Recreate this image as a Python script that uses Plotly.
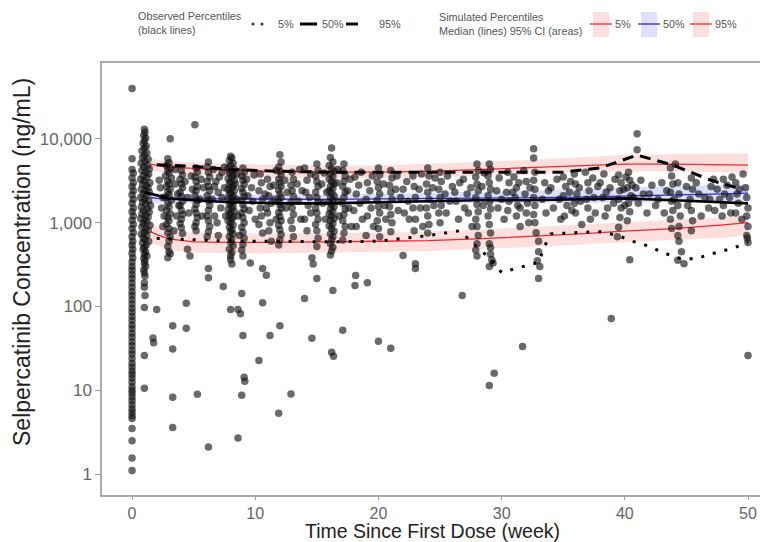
import plotly.graph_objects as go

# ---------------- data ----------------
# simulated percentiles (weeks) with 95% CI bands
sim_week = [1.5, 2, 3, 5, 8, 12, 16, 20, 24, 28, 32, 36, 40, 44, 48, 50]
sim_p5 = [780, 720, 640, 590, 580, 580, 590, 600, 610, 640, 680, 730, 790, 850, 940, 1000]
sim_p5_lo = [560, 540, 470, 440, 430, 430, 440, 450, 460, 480, 510, 540, 580, 620, 660, 700]
sim_p5_hi = [980, 900, 800, 760, 740, 740, 750, 760, 780, 820, 870, 940, 1010, 1080, 1150, 1200]
sim_p50 = [2000, 1950, 1930, 1920, 1910, 1900, 1900, 1920, 1930, 1950, 1980, 2020, 2070, 2120, 2200, 2250]
sim_p50_lo = [1700, 1700, 1710, 1710, 1710, 1700, 1700, 1700, 1700, 1700, 1700, 1700, 1720, 1750, 1800, 1800]
sim_p50_hi = [2350, 2250, 2200, 2180, 2150, 2150, 2150, 2200, 2250, 2300, 2400, 2500, 2600, 2750, 2850, 2900]
sim_p95 = [5000, 4800, 4600, 4400, 4200, 4100, 4000, 4000, 4100, 4300, 4500, 4750, 5000, 5000, 4950, 4850]
sim_p95_lo = [4200, 4000, 3900, 3700, 3500, 3400, 3400, 3400, 3500, 3600, 3800, 4000, 4100, 4100, 4000, 3900]
sim_p95_hi = [6000, 5600, 5400, 5200, 5000, 4900, 4800, 4800, 5000, 5300, 5600, 6000, 6400, 6600, 6700, 6700]

# observed percentiles
obs_p50_week = [1, 2, 3, 5, 8, 12, 16, 20, 24, 28, 32, 36, 40, 44, 48, 50]
obs_p50 = [2300, 2100, 1950, 1850, 1750, 1700, 1700, 1750, 1800, 1850, 1850, 1900, 1950, 1850, 1750, 1700]
obs_p95_week = [2, 5, 8, 12, 16, 20, 24, 28, 32, 35, 38, 41, 44, 47, 49.5]
obs_p95 = [4900, 4700, 4300, 4100, 4000, 4000, 4000, 3950, 4000, 4000, 4500, 6400, 4800, 3200, 2500]
obs_p5_week = [2, 5, 8, 12, 16, 20, 24, 26.6, 27.7, 29, 30, 31, 32, 33, 33.5, 34, 36, 38, 39.5,
               40.4, 41.4, 42.3, 43.3, 44.2, 45, 45.8, 46.8, 47.7, 48.7, 50]
obs_p5 = [650, 620, 600, 600, 590, 600, 700, 800, 560, 380, 254, 280, 306, 335, 530, 735, 760, 780, 700,
          610, 560, 490, 430, 380, 370, 370, 415, 450, 490, 580]

# observed concentrations (week, ng/mL), grouped by visit
visit_w0 = [(0, 40000), (0, 5800), (0, 4300), (0.1, 3900), (0, 3400), (0.1, 3000), (0, 2700), (0.1, 2400),
            (0, 2150), (0.1, 1900), (0, 1700), (0.1, 1500), (0, 1350), (0.1, 1200), (0, 1070), (0.1, 950),
            (0, 850), (0.1, 760), (0, 680), (0.05, 600), (0, 540), (0.05, 480), (0, 430), (0.05, 380),
            (0, 340), (0, 300), (0, 270), (0, 240), (0, 215), (0, 190), (0, 170), (0, 150), (0, 135),
            (0, 120), (0, 107), (0, 95), (0, 85), (0, 76), (0, 68), (0, 60), (0, 54), (0, 48), (0, 43),
            (0, 38), (0, 34), (0, 30), (0, 27), (0, 24), (0, 21), (0, 19), (0, 17), (0, 15.5), (0, 14),
            (0, 12.5), (0, 11), (0, 10), (0, 9.2), (0, 8.3), (0, 7.5), (0, 6.7), (0, 6), (0, 5.5), (0, 5),
            (0, 4.6), (0, 3.5), (0, 2.5), (0, 1.55), (0, 1.1)]
visit_w1 = [(1.0, 13000), (1.05, 12000), (0.95, 11000), (1.1, 10200), (1.0, 9500), (0.9, 8800), (1.15, 8200),
            (1.0, 7700), (0.8, 7200), (1.2, 6800), (1.0, 6400), (0.85, 6000), (1.3, 5700), (1.05, 5400),
            (0.75, 5100), (1.25, 4800), (0.95, 4600), (1.4, 4400), (0.8, 4200), (1.1, 4000), (1.35, 3800),
            (0.9, 3600), (1.2, 3450), (0.7, 3300), (1.0, 3150), (1.45, 3000), (0.85, 2900), (1.15, 2750),
            (1.3, 2600), (0.75, 2500), (1.05, 2400), (1.4, 2300), (0.9, 2200), (1.2, 2100), (0.7, 2000),
            (1.0, 1900), (1.35, 1820), (0.85, 1750), (1.1, 1680), (1.5, 1600), (0.75, 1530), (1.25, 1460),
            (0.95, 1400), (1.4, 1340), (0.8, 1280), (1.1, 1220), (1.3, 1170), (0.7, 1120), (1.0, 1070),
            (1.2, 1020), (0.9, 980), (1.45, 930), (0.8, 890), (1.1, 850), (1.3, 810), (1.0, 770),
            (0.75, 730), (1.2, 700), (0.9, 660), (1.05, 630), (1.35, 600), (0.85, 570), (1.15, 540),
            (1.0, 510), (0.9, 480), (1.1, 450), (1.0, 420), (1.2, 400), (0.95, 375), (1.05, 350),
            (1.0, 325), (1.1, 300), (0.95, 275), (1.0, 250), (1.05, 230), (1.0, 190), (1.0, 170),
            (1.05, 135), (1.0, 97), (1.7, 42), (1.75, 37), (1.0, 26), (1.0, 10.6), (2.0, 92)]
visit_w3 = [(2.9, 5800), (3.0, 5200), (2.8, 4800), (3.1, 4500), (2.9, 4200), (3.0, 3900), (2.7, 3600),
            (3.2, 3400), (2.9, 3150), (3.0, 2900), (2.8, 2700), (3.1, 2500), (2.9, 2300), (3.0, 2150),
            (2.7, 2000), (3.2, 1850), (2.9, 1700), (3.0, 1550), (2.8, 1400), (3.1, 1280), (2.9, 1150),
            (3.0, 1050), (2.8, 950), (3.0, 850), (2.9, 760), (3.1, 680), (3.0, 600), (2.9, 520),
            (3.0, 450), (2.9, 380), (3.1, 10000), (2.3, 2600), (2.4, 1500), (3.5, 2900), (3.6, 1200),
            (3.4, 800), (2.5, 900), (3.3, 59), (3.3, 31), (3.3, 8.25), (3.3, 3.6)]
visit_w4 = [(4.0, 4200), (4.1, 3700), (3.9, 3300), (4.0, 2900), (4.1, 2600), (3.9, 2300), (4.0, 2050),
            (4.1, 1800), (3.9, 1600), (4.0, 1400), (4.1, 1250), (4.0, 1100), (3.9, 980), (4.0, 870),
            (4.1, 740), (4.4, 109), (4.4, 55), (4.5, 480), (4.7, 400), (3.1, 425)]
visit_w5 = [(5.1, 14700), (5.2, 4500), (5.3, 4000), (5.1, 3500), (5.2, 3100), (5.3, 2700), (5.2, 2400),
            (5.1, 2100), (5.3, 1850), (5.2, 1650), (5.1, 1450), (5.2, 1300), (5.3, 1150), (5.2, 1000),
            (5.1, 900), (5.2, 800), (5.3, 8.95)]
visit_w6 = [(6.2, 5300), (6.1, 4600), (6.2, 4000), (6.3, 3500), (6.1, 3100), (6.2, 2700), (6.3, 2400),
            (6.1, 2100), (6.2, 1850), (6.3, 1600), (6.2, 1400), (6.1, 1200), (6.2, 1050), (6.3, 900),
            (6.2, 780), (6.1, 680), (6.2, 283), (6.2, 220), (6.2, 2.1), (6.8, 3100), (7.0, 2300),
            (7.2, 1500), (6.7, 1200), (7.3, 4000), (7.4, 173), (7.0, 700)]
visit_w8 = [(8.0, 6200), (8.1, 5900), (7.9, 5500), (8.2, 5100), (8.0, 4800), (7.8, 4500), (8.3, 4300),
            (8.0, 4100), (7.9, 3900), (8.2, 3700), (8.1, 3500), (7.8, 3350), (8.3, 3200), (8.0, 3050),
            (7.9, 2900), (8.2, 2750), (8.1, 2600), (7.8, 2500), (8.3, 2400), (8.0, 2300), (7.9, 2200),
            (8.2, 2100), (8.1, 2000), (7.8, 1900), (8.3, 1820), (8.0, 1740), (7.9, 1660), (8.2, 1580),
            (8.1, 1500), (7.8, 1430), (8.3, 1360), (8.0, 1300), (7.9, 1230), (8.2, 1170), (8.1, 1110),
            (7.8, 1050), (8.0, 1000), (8.2, 940), (7.9, 880), (8.1, 830), (8.0, 780), (8.2, 730),
            (7.9, 680), (8.1, 630), (8.0, 580), (8.2, 530), (7.9, 480), (8.1, 440), (8.0, 400),
            (8.0, 360), (8.1, 320), (8.0, 92), (8.6, 92), (8.6, 2.7)]
visit_w9 = [(9.0, 4500), (9.1, 4000), (8.9, 3600), (9.0, 3200), (9.1, 2850), (8.9, 2550), (9.0, 2300),
            (9.1, 2050), (8.9, 1850), (9.0, 1650), (9.1, 1450), (8.9, 1300), (9.0, 1150), (9.1, 1000),
            (8.9, 880), (9.0, 770), (9.1, 650), (9.0, 550), (8.9, 470), (9.0, 400), (8.8, 82),
            (8.9, 143), (9.0, 45), (9.1, 14.3), (9.15, 12.8), (8.9, 8.7), (9.6, 330)]
visit_w10 = [(10.4, 3800), (10.5, 3000), (10.3, 2400), (10.6, 1900), (10.4, 1500), (10.5, 1200),
             (10.3, 950), (10.6, 750), (11.0, 3300), (11.2, 2700), (11.1, 2100), (11.3, 1700),
             (11.0, 1300), (11.2, 1000), (11.1, 800), (11.3, 600), (10.6, 283), (10.9, 235),
             (10.3, 22.7), (10.6, 111), (11.2, 45)]
visit_w12 = [(12.0, 6450), (12.1, 5300), (11.9, 4600), (12.0, 4100), (12.1, 3700), (11.9, 3300),
             (12.0, 3000), (12.1, 2700), (11.9, 2450), (12.0, 2200), (12.1, 2000), (11.9, 1800),
             (12.0, 1630), (12.1, 1470), (11.9, 1320), (12.0, 1180), (12.1, 1050), (11.9, 930),
             (12.0, 820), (12.1, 720), (12.0, 620), (11.9, 540), (12.0, 59), (11.9, 5.3)]
visit_w13 = [(13.0, 4000), (13.1, 3300), (12.9, 2800), (13.0, 2400), (13.1, 2050), (12.9, 1750),
             (13.0, 1500), (13.1, 1250), (12.9, 1050), (13.0, 850), (13.1, 680), (12.9, 9.0)]
visit_w15 = [(14.0, 4500), (14.2, 3200), (14.1, 2300), (14.3, 1600), (14.0, 1100), (14.2, 800),
             (14.0, 124), (14.6, 41.6), (15.0, 5000), (15.1, 4200), (14.9, 3600), (15.0, 3100),
             (15.1, 2700), (14.9, 2300), (15.0, 2000), (15.1, 1750), (14.9, 1500), (15.0, 1300),
             (15.1, 1100), (14.9, 950), (15.0, 800), (15.1, 650), (15.0, 520), (15.0, 216),
             (14.6, 380), (14.7, 320)]
visit_w16 = [(16.2, 7800), (16.1, 6000), (16.3, 5300), (16.0, 4800), (16.2, 4400), (16.4, 4100),
             (16.1, 3800), (16.3, 3550), (16.0, 3300), (16.2, 3100), (16.4, 2900), (16.1, 2700),
             (16.3, 2550), (16.0, 2400), (16.2, 2250), (16.4, 2100), (16.1, 1980), (16.3, 1860),
             (16.0, 1750), (16.2, 1650), (16.4, 1550), (16.1, 1450), (16.3, 1360), (16.0, 1280),
             (16.2, 1200), (16.4, 1120), (16.1, 1050), (16.3, 980), (16.0, 910), (16.2, 850),
             (16.4, 790), (16.1, 730), (16.3, 680), (16.2, 620), (16.1, 560), (16.3, 510),
             (16.2, 460), (16.1, 410), (16.3, 155), (16.2, 28.4), (16.35, 25.4)]
visit_w17 = [(17.2, 5000), (17.1, 4200), (17.3, 3600), (17.2, 3100), (17.1, 2700), (17.3, 2300),
             (17.2, 2000), (17.1, 1700), (17.3, 1450), (17.2, 1250), (17.1, 1050), (17.3, 900),
             (17.2, 750), (17.1, 620), (17.1, 51.9), (18.1, 3500), (18.2, 2200), (18.0, 1400),
             (18.2, 900), (18.1, 178), (18.15, 234), (19.1, 3000), (19.0, 1900), (19.1, 1200),
             (19.0, 700), (19.1, 192)]
visit_w20 = [(20.0, 4500), (20.1, 3700), (19.9, 3100), (20.0, 2600), (20.1, 2200), (19.9, 1850),
             (20.0, 1550), (20.1, 1300), (19.9, 1050), (20.0, 850), (20.1, 680), (20.0, 38.4),
             (21.0, 4200), (21.1, 3400), (20.9, 2800), (21.0, 2300), (21.1, 1900), (20.9, 1550),
             (21.0, 1250), (21.1, 1000), (21.0, 780), (21.0, 31.6), (22.0, 405), (22.8, 3600),
             (22.9, 2700), (23.0, 2000), (22.8, 1500), (23.0, 1100), (22.9, 800), (23.0, 324),
             (23.0, 283), (22.0, 2500), (22.1, 1300)]
visit_w24 = [(24.0, 4500), (24.1, 3600), (23.9, 2900), (24.0, 2300), (24.1, 1900), (23.9, 1500),
             (24.0, 1200), (24.1, 950), (24.0, 750), (25.0, 4000), (25.1, 3100), (24.9, 2500),
             (25.0, 2000), (25.1, 1600), (24.9, 1300), (25.0, 1000), (26.0, 2700), (26.3, 1800),
             (26.6, 3000), (26.8, 135), (27.0, 1500), (26.5, 1100), (27.2, 2200)]
visit_w28 = [(28.0, 5000), (28.1, 4200), (27.9, 3500), (28.0, 2900), (28.1, 2400), (27.9, 2000),
             (28.0, 1650), (28.1, 1350), (27.9, 1100), (28.0, 900), (28.1, 700), (28.0, 560),
             (27.9, 470), (28.0, 400), (29.0, 5000), (29.1, 4300), (28.9, 3600), (29.0, 3000),
             (29.1, 2500), (28.9, 2100), (29.0, 1750), (29.1, 1450), (28.9, 1200), (29.0, 950),
             (29.1, 750), (29.0, 560), (29.1, 420), (29.2, 360), (29.0, 300), (29.1, 500),
             (29.3, 330), (29.0, 11.4), (29.4, 15.9)]
visit_w31 = [(30.5, 4000), (30.6, 3000), (30.4, 2300), (30.6, 1800), (30.5, 1400), (31.0, 3500),
             (31.2, 2600), (31.1, 2000), (31.3, 1600), (31.2, 1200), (31.8, 4200), (32.0, 3100),
             (31.9, 2200), (32.1, 1700), (32.0, 1300), (32.2, 1000), (31.7, 33.3), (31.5, 900),
             (32.6, 7600), (32.6, 5900), (32.7, 4000), (32.6, 3200), (32.7, 2500), (32.6, 2000),
             (32.7, 1600), (32.6, 1250), (32.7, 1000), (32.8, 760), (33.0, 600), (33.0, 450),
             (32.9, 350), (33.0, 216), (33.1, 300)]
visit_w36 = [(35.0, 3500), (35.2, 2700), (35.0, 2100), (35.3, 1600), (35.1, 1200), (35.9, 3800),
             (36.0, 2900), (36.1, 2200), (35.9, 1700), (36.0, 1300), (36.8, 4000), (37.0, 3000),
             (37.1, 2400), (36.9, 1900), (37.0, 1500), (37.2, 1100), (36.5, 950), (34.0, 2600),
             (34.2, 1500), (34.5, 3300), (38.0, 3000), (38.2, 2000)]
visit_w40 = [(41.0, 11500), (41.0, 7400), (39.5, 3700), (39.7, 3000), (39.6, 2400), (39.5, 1900),
             (39.7, 1500), (39.6, 1150), (39.5, 880), (39.4, 680), (40.3, 4000), (40.4, 3200),
             (40.2, 2600), (40.5, 2100), (40.3, 1700), (40.4, 1350), (40.2, 1050), (40.4, 360),
             (40.6, 2800), (40.7, 2000), (38.9, 72), (38.5, 2300), (38.6, 1500), (42.0, 2200),
             (42.5, 1600)]
visit_w44 = [(43.7, 4500), (43.8, 3600), (43.9, 2900), (43.7, 2300), (43.8, 1800), (43.9, 1400),
             (43.7, 1100), (43.8, 850), (44.3, 3000), (44.4, 2200), (44.3, 1600), (44.5, 1200),
             (44.4, 900), (44.3, 700), (44.4, 600), (44.3, 355), (44.8, 324), (44.6, 450),
             (45.4, 3400), (45.5, 2500), (45.3, 1900), (45.4, 1400), (45.5, 1050), (45.4, 800),
             (46.5, 2000), (46.8, 1500), (47.0, 2700)]
visit_w48 = [(47.5, 2500), (48.0, 3300), (48.1, 2200), (48.0, 1600), (47.9, 1200), (48.3, 2800),
             (49.0, 3000), (49.1, 2200), (49.2, 1700), (49.0, 1300), (49.8, 2600), (49.9, 2000),
             (50.0, 1500), (49.9, 1200), (50.0, 900), (49.9, 700), (50.0, 580), (49.95, 650),
             (50.0, 26)]
# unscheduled samples lying between the visit columns
between_early = [(2.2, 3200), (2.5, 2000), (2.6, 1200), (3.5, 4300), (3.7, 2200), (3.8, 1600), (4.3, 3100),
                 (4.5, 2000), (4.6, 1300), (4.8, 3600), (4.9, 2500), (5.5, 1900), (5.6, 3300), (5.7, 1200),
                 (5.8, 2600), (6.5, 1900), (6.6, 4300), (6.7, 2700), (6.9, 1000), (7.1, 3500), (7.3, 2000),
                 (7.5, 2600), (7.6, 1200), (7.5, 4600), (8.4, 2900), (8.5, 1900), (8.6, 1200), (8.5, 3800),
                 (8.7, 700), (9.3, 3300), (9.4, 2100), (9.5, 1400), (9.7, 2600), (9.8, 1800), (9.9, 3700),
                 (10.0, 1100), (10.8, 2200), (10.9, 1500), (11.5, 2800), (11.6, 1900), (11.7, 4200),
                 (11.7, 1100)]
between_mid = [(12.4, 3200), (12.5, 1500), (12.6, 2300), (13.4, 2900), (13.5, 1800), (13.6, 4300),
               (13.7, 1100), (13.8, 2400), (14.4, 2000), (14.5, 1300), (14.5, 3800), (15.4, 2900),
               (15.5, 1700), (15.6, 3900), (15.7, 1100), (15.8, 2300), (16.6, 3000), (16.7, 1800),
               (16.8, 1200), (16.7, 4300), (17.5, 2400), (17.6, 1500), (17.7, 3300), (17.8, 900),
               (18.4, 2800), (18.5, 1700), (18.6, 4000), (18.7, 1100), (19.3, 2400), (19.4, 1500),
               (19.5, 3600), (19.6, 900), (20.4, 2900), (20.5, 1600), (20.6, 1100), (21.4, 2500),
               (21.5, 3600), (21.6, 1400), (21.8, 2000), (22.3, 3100), (22.4, 1800), (22.5, 1100),
               (23.3, 2500), (23.4, 1500), (23.5, 3800), (23.6, 900)]
between_late = [(24.4, 2600), (24.5, 1600), (24.6, 3400), (25.4, 2200), (25.5, 1300), (25.6, 3600),
                (25.8, 1800), (26.2, 2300), (26.9, 3300), (27.3, 1300), (27.5, 2600), (27.6, 900),
                (28.4, 2700), (28.5, 1600), (28.6, 3900), (29.6, 2400), (29.7, 1500), (29.8, 3400),
                (30.0, 1900), (30.2, 1100), (30.9, 2300), (31.4, 3000), (31.5, 1500), (32.3, 2600),
                (33.3, 1900), (33.5, 3000), (33.6, 1300), (33.8, 2400), (34.7, 1900), (34.8, 1100),
                (35.5, 2300), (35.6, 3100), (35.7, 1400), (36.3, 2600), (36.4, 1800), (37.4, 3400),
                (37.5, 2000), (37.6, 1300), (37.8, 2700), (38.3, 3800), (38.4, 1200), (38.8, 2600),
                (39.1, 1700), (39.2, 3300), (39.9, 2500), (40.0, 1600), (40.1, 3500), (40.9, 2600),
                (41.1, 1700), (41.3, 3200), (41.5, 2200), (41.8, 1300), (42.2, 2800), (42.7, 1900),
                (43.0, 3000), (43.2, 1300), (43.4, 2400), (44.0, 1900), (44.1, 5000), (45.0, 2700),
                (45.1, 1600), (45.8, 3000), (46.0, 2200), (46.2, 1200), (46.9, 1900), (47.2, 3300),
                (47.3, 1400), (47.7, 1900), (48.5, 2000), (48.6, 1300), (48.7, 3500), (49.3, 2500),
                (49.5, 1100), (49.6, 3800)]

x_ticks = [0, 10, 20, 30, 40, 50]
y_ticks = [1, 10, 100, 1000, 10000]
y_tick_text = ["1", "10", "100", "1,000", "10,000"]

# ---------------- figure ----------------
# the page body adds an 8px margin, so the figure itself is 8px smaller
PAGE = 8
W, H = 768 - PAGE, 542 - PAGE
# plot panel in screen pixels
L, R, T, B = 102, 766, 63, 495
FONT = "Liberation Sans, Arial, sans-serif"


def px(x):
    return (x - L) / (R - L)


def py(y):
    return (B - y) / (B - T)


fig = go.Figure()


def band(lo, hi, color):
    fig.add_trace(go.Scatter(x=sim_week + sim_week[::-1], y=hi + lo[::-1], fill="toself",
                             fillcolor=color, line=dict(width=0), mode="lines",
                             hoverinfo="skip", showlegend=False))


band(sim_p5_lo, sim_p5_hi, "rgba(255,60,60,0.17)")
band(sim_p95_lo, sim_p95_hi, "rgba(255,60,60,0.17)")
band(sim_p50_lo, sim_p50_hi, "rgba(60,60,255,0.17)")
for vals, col in [(sim_p5, "#ee2a2a"), (sim_p95, "#ee2a2a"), (sim_p50, "#2a2acc")]:
    fig.add_trace(go.Scatter(x=sim_week, y=vals, mode="lines", line=dict(color=col, width=1.3),
                             showlegend=False))

visits = [visit_w0, visit_w1, visit_w3, visit_w4, visit_w5, visit_w6, visit_w8, visit_w9, visit_w10,
          visit_w12, visit_w13, visit_w15, visit_w16, visit_w17, visit_w20, visit_w24, visit_w28,
          visit_w31, visit_w36, visit_w40, visit_w44, visit_w48, between_early, between_mid, between_late]
obs_x = [p[0] for v in visits for p in v]
obs_y = [p[1] for v in visits for p in v]
fig.add_trace(go.Scatter(x=obs_x, y=obs_y, mode="markers",
                         marker=dict(size=7.5, color="rgba(15,15,15,0.62)", line=dict(width=0)),
                         showlegend=False))

fig.add_trace(go.Scatter(x=obs_p5_week, y=obs_p5, mode="lines",
                         line=dict(color="black", width=3, dash="3px,9px"), showlegend=False))
fig.add_trace(go.Scatter(x=obs_p50_week, y=obs_p50, mode="lines",
                         line=dict(color="black", width=2.6), showlegend=False))
fig.add_trace(go.Scatter(x=obs_p95_week, y=obs_p95, mode="lines",
                         line=dict(color="black", width=3, dash="11px,7px"), showlegend=False))

# ---------------- legend (drawn) ----------------
LEG = dict(family=FONT, size=10.8, color="#555")
ann = []
shapes = []
ann.append(dict(x=px(136), y=py(23), text="Observed Percentiles<br>(black lines)", xanchor="left",
                align="left", font=LEG))
for xd in (253, 262):
    shapes.append(dict(type="circle", xref="paper", yref="paper", x0=px(xd - 1.5), x1=px(xd + 1.5),
                       y0=py(25.5), y1=py(22.5), fillcolor="#333", line=dict(width=0)))
ann.append(dict(x=px(276), y=py(24), text="5%", xanchor="left", font=LEG))
shapes.append(dict(type="line", xref="paper", yref="paper", x0=px(300), x1=px(317), y0=py(24), y1=py(24),
                   line=dict(color="black", width=3)))
ann.append(dict(x=px(320), y=py(24), text="50%", xanchor="left", font=LEG))
shapes.append(dict(type="line", xref="paper", yref="paper", x0=px(346), x1=px(358), y0=py(24), y1=py(24),
                   line=dict(color="black", width=3)))
ann.append(dict(x=px(377), y=py(24), text="95%", xanchor="left", font=LEG))

ann.append(dict(x=px(437), y=py(24), text="Simulated Percentiles<br>Median (lines) 95% CI (areas)",
                xanchor="left", align="left", font=LEG))
for (x0, fc, lc, lab) in [(593, "rgba(255,60,60,0.17)", "#ee2a2a", "5%"),
                          (641, "rgba(60,60,255,0.17)", "#2a2acc", "50%"),
                          (693, "rgba(255,60,60,0.17)", "#ee2a2a", "95%")]:
    shapes.append(dict(type="rect", xref="paper", yref="paper", x0=px(x0), x1=px(x0 + 16), y0=py(37),
                       y1=py(12), fillcolor=fc, line=dict(width=0)))
    shapes.append(dict(type="line", xref="paper", yref="paper", x0=px(x0 - 3), x1=px(x0 + 19), y0=py(24),
                       y1=py(24), line=dict(color=lc, width=1.3)))
    ann.append(dict(x=px(x0 + 20), y=py(24), text=lab, xanchor="left", font=LEG))

# axis titles
ann.append(dict(x=px(432), y=py(531), text="Time Since First Dose (week)", xanchor="center",
                font=dict(family=FONT, size=19.5, color="#222")))
ann.append(dict(x=px(22), y=py(262), text="Selpercatinib Concentration (ng/mL)", textangle=-90,
                xanchor="center", font=dict(family=FONT, size=23, color="#222")))
for a in ann:
    a["showarrow"] = False
    a["yanchor"] = "middle"
    a["xref"] = "paper"
    a["yref"] = "paper"

fig.update_layout(
    width=W, height=H,
    margin=dict(l=L - PAGE, r=W - (R - PAGE), t=T - PAGE, b=H - (B - PAGE), autoexpand=False),
    paper_bgcolor="white", plot_bgcolor="white",
    annotations=ann, shapes=shapes,
    font=dict(family=FONT),
)
fig.update_xaxes(range=[-2.44, 51.46], tickvals=x_ticks, ticks="outside", ticklen=3, tickwidth=1.3,
                 tickcolor="#999", showgrid=False, zeroline=False, showline=True, linecolor="#aaa",
                 linewidth=1.5, mirror=True, tickfont=dict(size=16, color="#666"), automargin=False)
fig.update_yaxes(type="log", range=[-0.25, 4.905], tickvals=y_ticks, ticktext=y_tick_text,
                 ticks="outside", ticklen=5, tickwidth=1.3, tickcolor="#999", showgrid=False,
                 zeroline=False, showline=True, linecolor="#aaa", linewidth=1.5, mirror=True,
                 tickfont=dict(size=17, color="#666"), automargin=False)

fig.write_html("out.html")
